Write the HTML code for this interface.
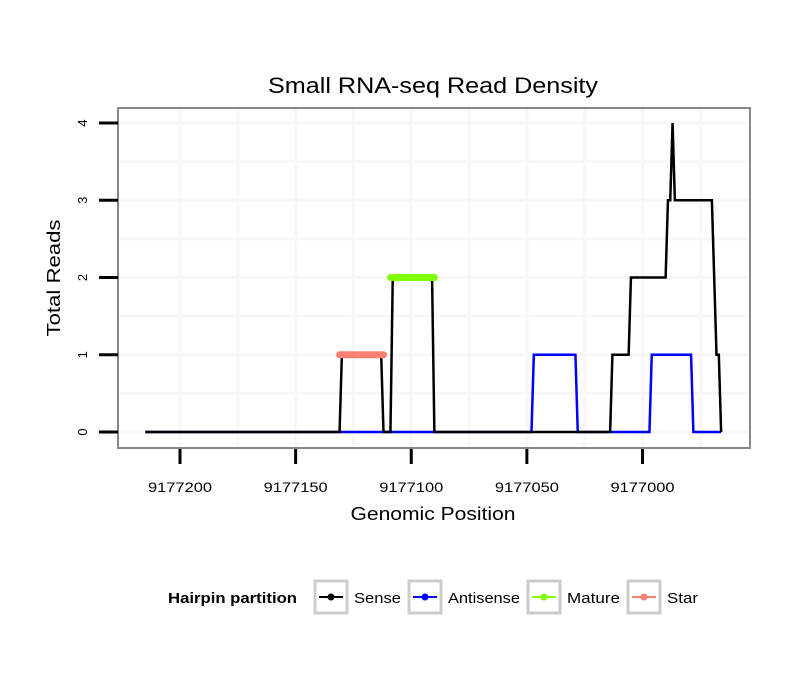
<!DOCTYPE html>
<html><head><meta charset="utf-8"><style>
body{margin:0;background:#fff;}
svg{display:block;font-family:"Liberation Sans",sans-serif;}
</style></head><body>
<svg id="chart" width="810" height="690">
<text x="433" y="93" text-anchor="middle" font-size="22" textLength="330" lengthAdjust="spacingAndGlyphs">Small RNA-seq Read Density</text>
<g id="grid"></g>
<g id="series"></g>
<rect x="118" y="108" width="632" height="340" fill="none" stroke="#888" stroke-width="2"/>
<g id="axes"></g>
<text x="433" y="520" text-anchor="middle" font-size="18" textLength="165" lengthAdjust="spacingAndGlyphs">Genomic Position</text>
<text transform="translate(60,278) rotate(-90)" text-anchor="middle" font-size="18" textLength="117" lengthAdjust="spacingAndGlyphs">Total Reads</text>
<g>
<text x="168" y="603" font-size="14.5" font-weight="bold" textLength="129" lengthAdjust="spacingAndGlyphs">Hairpin partition</text>
<g><rect x="315" y="581" width="32" height="32" fill="#fff" stroke="#ccc" stroke-width="3"/><line x1="319" y1="597" x2="343" y2="597" stroke="#000" stroke-width="2"/><circle cx="331" cy="597" r="3.5" fill="#000"/><text x="354" y="603" font-size="14.5" textLength="47" lengthAdjust="spacingAndGlyphs">Sense</text></g>
<g><rect x="409" y="581" width="32" height="32" fill="#fff" stroke="#ccc" stroke-width="3"/><line x1="413" y1="597" x2="437" y2="597" stroke="#00f" stroke-width="2"/><circle cx="425" cy="597" r="3.5" fill="#00f"/><text x="448" y="603" font-size="14.5" textLength="72" lengthAdjust="spacingAndGlyphs">Antisense</text></g>
<g><rect x="528" y="581" width="32" height="32" fill="#fff" stroke="#ccc" stroke-width="3"/><line x1="532" y1="597" x2="556" y2="597" stroke="#7fff00" stroke-width="2"/><circle cx="544" cy="597" r="3.5" fill="#7fff00"/><text x="567" y="603" font-size="14.5" textLength="53" lengthAdjust="spacingAndGlyphs">Mature</text></g>
<g><rect x="628" y="581" width="32" height="32" fill="#fff" stroke="#ccc" stroke-width="3"/><line x1="632" y1="597" x2="656" y2="597" stroke="#fa8072" stroke-width="2"/><circle cx="644" cy="597" r="3.5" fill="#fa8072"/><text x="667" y="603" font-size="14.5" textLength="31" lengthAdjust="spacingAndGlyphs">Star</text></g>
</g>
</svg>
<script>
const xTicks=[9177200,9177150,9177100,9177050,9177000];
const xTickLabels=["9177200","9177150","9177100","9177050","9177000"];
const yTicks=[0,1,2,3,4];
const senseX=[9177215,9177131,9177130,9177113,9177112,9177109,9177108,9177091,9177090,9177014,9177013,9177006,9177005,9176990,9176989,9176988,9176987,9176986,9176970,9176968,9176967,9176966];
const senseY=[0,0,1,1,0,0,2,2,0,0,1,1,2,2,3,3,4,3,3,1,1,0];
const antiX=[9177215,9177048,9177047,9177029,9177028,9176997,9176996,9176979,9176978,9176966];
const antiY=[0,0,1,1,0,0,1,1,0,0];
const matureX=[9177109,9177090];
const matureY=[2,2];
const starX=[9177131,9177112];
const starY=[1,1];
const NS="http://www.w3.org/2000/svg";
const sx=p=>180+(9177200-p)*2.3125;
const sy=v=>432-v*77.25;
function mk(tag,attrs,parent){const e=document.createElementNS(NS,tag);for(const k in attrs)e.setAttribute(k,attrs[k]);parent.appendChild(e);return e;}
const grid=document.getElementById('grid'),series=document.getElementById('series'),axes=document.getElementById('axes');
for(let i=0;i<yTicks.length;i++){
 for(const v of [yTicks[i],yTicks[i]+0.5]){ if(v>4.3)continue;
  const g=mk('line',{x1:119,x2:749,y1:sy(v),y2:sy(v),stroke:'#f7f7f7','stroke-width':3},grid);
  
  }
 const t=mk('line',{x1:99,x2:118,y1:sy(yTicks[i]),y2:sy(yTicks[i]),stroke:'#000','stroke-width':3},axes);
 
 
 const l=mk('text',{transform:`translate(87,${sy(yTicks[i])}) rotate(-90)`,'text-anchor':'middle','font-size':13},axes);
 l.textContent=yTicks[i];
 
 
}
for(let i=0;i<xTicks.length;i++){
 for(const p of [xTicks[i],xTicks[i]-25]){
  const g=mk('line',{x1:sx(p),x2:sx(p),y1:109,y2:447,stroke:'#f7f7f7','stroke-width':3},grid);
  
  }
 const t=mk('line',{x1:sx(xTicks[i]),x2:sx(xTicks[i]),y1:449,y2:464,stroke:'#000','stroke-width':3},axes);
 
 
 const l=mk('text',{x:sx(xTicks[i]),y:492,'text-anchor':'middle','font-size':13.5,textLength:64,lengthAdjust:'spacingAndGlyphs'},axes);
 l.textContent=xTickLabels[i];
 
 
}
function pts(X,Y){return X.map((x,i)=>sx(x)+','+sy(Y[i])).join(' ');}
const a=mk('polyline',{points:pts(antiX,antiY),fill:'none',stroke:'#00f','stroke-width':2.5},series);


const s=mk('polyline',{points:pts(senseX,senseY),fill:'none',stroke:'#000','stroke-width':2.5},series);


const m=mk('polyline',{points:pts(matureX,matureY),fill:'none',stroke:'#7fff00','stroke-width':7,'stroke-linecap':'round'},series);


const st=mk('polyline',{points:pts(starX,starY),fill:'none',stroke:'#fa8072','stroke-width':7,'stroke-linecap':'round'},series);


</script>
</body></html>
